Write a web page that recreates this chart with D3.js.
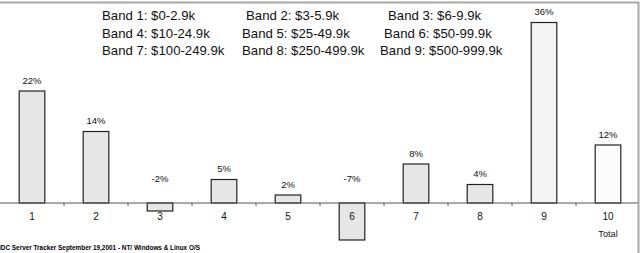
<!DOCTYPE html>
<html>
<head>
<meta charset="utf-8">
<script src="https://cdn.jsdelivr.net/npm/d3@7"></script>
<style>
  body { margin: 0; background: #fff; }
  svg { display: block; font-family: "Liberation Sans", Arial, sans-serif; }
</style>
</head>
<body>
<script>
var width = 643,
    height = 253

// bands and growth (%)
var bands = ['1', '2', '3', '4', '5', '6', '7', '8', '9', '10']
var growth = [22.4, 14.3, -1.6, 4.7, 1.6, -7.4, 7.8, 3.7, 36.1, 11.6]

var legendRows = [
  ['Band 1: $0-2.9k', 'Band 2: $3-5.9k', 'Band 3: $6-9.9k'],
  ['Band 4: $10-24.9k', 'Band 5: $25-49.9k', 'Band 6: $50-99.9k'],
  ['Band 7: $100-249.9k', 'Band 8: $250-499.9k', 'Band 9: $500-999.9k']
]
var legendX = [
  [102, 246, 388],
  [102, 242, 384],
  [102, 242, 380]
]

var source = 'IDC Server Tracker September 19,2001 - NT/ Windows & Linux O/S'

var x = d3.scaleBand()
    .domain(bands)
    .range([0, 640])
    .paddingInner(0.6)
    .paddingOuter(0.3)

var y = d3.scaleLinear()
    .domain([-10, 40])
    .range([253, 3])

var svg = d3.select('body').append('svg')
    .attr('width', width)
    .attr('height', height)

// frame
svg.append('path')
    .attr('d', 'M0,2.5H638.5V253')
    .attr('fill', 'none')
    .attr('stroke', '#a8a8a8')
    .attr('stroke-width', 2)

var data = bands.map(function(b, i){ return {band: b, v: growth[i], i: i} })

svg.selectAll('rect.bar').data(data).enter().append('rect')
    .attr('class', 'bar')
    .attr('x', function(d){ return x(d.band) })
    .attr('width', x.bandwidth())
    .attr('y', function(d){ return y(Math.max(0, d.v)) })
    .attr('height', function(d){ return Math.abs(y(d.v) - y(0)) })
    .attr('fill', function(d){ return d.i < 8 ? '#e6e6e6' : d.i == 8 ? '#f3f3f3' : '#fcfcfc' })
    .attr('stroke', '#222')
    .attr('stroke-width', 1.2)

// axis line + ticks between categories
var y0 = y(0)
svg.append('line')
    .attr('x1', 0).attr('x2', 638)
    .attr('y1', y0).attr('y2', y0)
    .attr('stroke', '#555')
    .attr('stroke-width', 1)

svg.selectAll('line.tick').data(bands.slice(1)).enter().append('line')
    .attr('class', 'tick')
    .attr('x1', function(d){ return x(d) - x.step() * 0.3 })
    .attr('x2', function(d){ return x(d) - x.step() * 0.3 })
    .attr('y1', y0).attr('y2', y0 + 3)
    .attr('stroke', '#555')

svg.selectAll('text.cat').data(bands).enter().append('text')
    .attr('class', 'cat')
    .attr('x', function(d){ return x(d) + x.bandwidth() / 2 })
    .attr('y', y0 + 17)
    .attr('text-anchor', 'middle')
    .attr('font-size', 10)
    .attr('fill', '#111')
    .text(function(d){ return d })

svg.append('text')
    .attr('x', x('10') + x.bandwidth() / 2)
    .attr('y', y0 + 34)
    .attr('text-anchor', 'middle')
    .attr('font-size', 9.2)
    .attr('fill', '#111')
    .text('Total')

// value labels
svg.selectAll('text.val').data(data).enter().append('text')
    .attr('class', 'val')
    .attr('x', function(d){ return x(d.band) + x.bandwidth() / 2 })
    .attr('y', function(d){ return d.v >= 0 ? y(d.v) - 7.5 : y0 - 21 })
    .attr('text-anchor', 'middle')
    .attr('font-size', 9.5)
    .attr('fill', '#111')
    .text(function(d){ return Math.round(d.v) + '%' })

// legend block
legendRows.forEach(function(row, r){
  row.forEach(function(t, c){
    svg.append('text')
        .attr('x', legendX[r][c])
        .attr('y', 20 + r * 17.5)
        .attr('font-size', 13.2)
        .attr('fill', '#111')
        .text(t)
  })
})

svg.append('text')
    .attr('x', -1)
    .attr('y', 250)
    .attr('font-size', 6.5)
    .attr('font-weight', 'bold')
    .attr('textLength', 201)
    .attr('lengthAdjust', 'spacingAndGlyphs')
    .text(source)
</script>
</body>
</html>
